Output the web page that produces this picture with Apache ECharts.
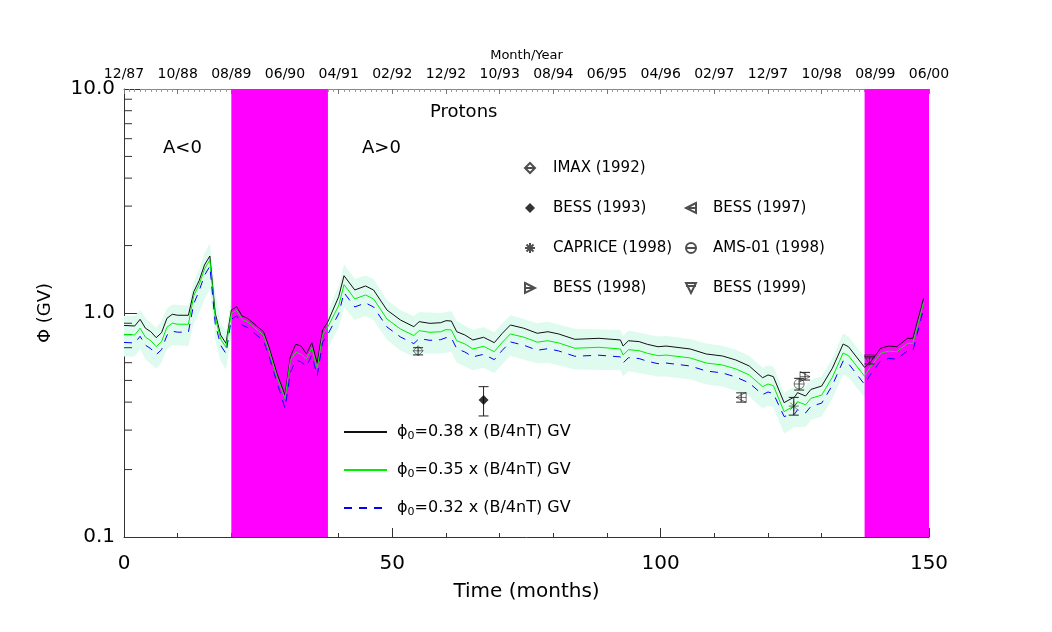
<!DOCTYPE html>
<html><head><meta charset="utf-8">
<script src="https://cdn.jsdelivr.net/npm/echarts@6/dist/echarts.min.js"></script>
<style>html,body{margin:0;padding:0;background:#fff}#c{width:1052px;height:632px}</style>
</head><body><div id="c"></div>
<script>
// ---- data ----
const topLabels = ['12/87','10/88','08/89','06/90','04/91','02/92','12/92','10/93','08/94','06/95','04/96','02/97','12/97','10/98','08/99','06/00'];

const months = [0,2,3,4,5,6,7,8,9,10,
 12,13,14,15,16,17,18,19,20,21,
 22,23,26,27,28.5,30,31,32,33,34,
 35,36,37,38,40,41,43,45,46.5,49,
 51.5,54,55,57,59,60,61,62,63.5,65,
 67,69,70.5,72,74.5,77,79,81,84,88.5,
 92.5,93,94,96,97.5,99.5,101,105.5,108.5,111.5,
 114,116.5,119,120,121,123,125,125.5,127,128,
 130,132,134,135,138,139,141,142.5,144,146,
 147,149];

const phi038 = [0.88,0.875,0.937,0.855,0.825,0.776,0.817,0.947,0.987,0.977,
 0.977,1.245,1.394,1.638,1.797,0.998,0.798,0.732,1.031,1.067,
 0.970,0.947,0.825,0.707,0.538,0.430,0.638,0.725,0.712,0.656,
 0.737,0.596,0.840,0.915,1.182,1.467,1.267,1.320,1.267,1.031,
 0.931,0.869,0.915,0.899,0.905,0.924,0.921,0.825,0.798,0.758,
 0.779,0.737,0.812,0.884,0.855,0.812,0.825,0.806,0.763,0.771,
 0.758,0.712,0.752,0.745,0.725,0.707,0.712,0.691,0.656,0.643,
 0.617,0.580,0.514,0.529,0.520,0.398,0.423,0.441,0.426,0.456,
 0.472,0.567,0.727,0.707,0.572,0.600,0.696,0.712,0.707,0.771,
 0.771,1.163];

const phi035 = [0.803,0.798,0.855,0.780,0.752,0.708,0.745,0.864,0.900,0.891,
 0.891,1.195,1.338,1.572,1.725,0.958,0.766,0.703,0.995,1.030,
 0.936,0.914,0.796,0.682,0.519,0.415,0.616,0.667,0.655,0.623,
 0.700,0.566,0.798,0.869,1.078,1.338,1.156,1.204,1.156,0.940,
 0.849,0.793,0.834,0.820,0.825,0.843,0.840,0.752,0.728,0.691,
 0.710,0.672,0.741,0.806,0.780,0.741,0.752,0.735,0.696,0.703,
 0.691,0.649,0.686,0.679,0.661,0.645,0.649,0.630,0.598,0.586,
 0.563,0.529,0.469,0.482,0.474,0.363,0.386,0.402,0.389,0.416,
 0.430,0.517,0.663,0.645,0.522,0.570,0.661,0.676,0.672,0.732,
 0.732,1.116];

const phi032 = [0.739,0.735,0.787,0.718,0.693,0.652,0.686,0.795,0.829,0.821,
 0.821,1.100,1.255,1.474,1.617,0.898,0.718,0.659,0.938,0.971,
 0.883,0.862,0.751,0.643,0.490,0.376,0.542,0.616,0.605,0.577,
 0.649,0.524,0.739,0.805,0.993,1.232,1.064,1.109,1.064,0.866,
 0.782,0.730,0.769,0.755,0.760,0.776,0.774,0.693,0.670,0.637,
 0.654,0.619,0.682,0.743,0.718,0.682,0.693,0.677,0.641,0.648,
 0.637,0.598,0.632,0.626,0.609,0.594,0.598,0.580,0.551,0.540,
 0.518,0.487,0.432,0.444,0.437,0.345,0.355,0.370,0.358,0.383,
 0.396,0.476,0.611,0.594,0.480,0.528,0.612,0.627,0.622,0.678,
 0.678,1.047];

// uncertainty band: [month, low, high]
const band = [[0,0.64,0.97],[2,0.64,0.97],[3,0.69,1.03],[4,0.62,0.95],[6,0.565,0.86],[7,0.60,0.92],[8,0.69,1.05],[9,0.72,1.09],[12,0.71,1.08],[13,0.90,1.38],[14,1.00,1.56],[15,1.15,1.85],[16,1.28,2.05],[17,0.76,1.25],[18,0.61,0.90],[19,0.56,0.83],[20,0.80,1.15],[30,0.32,0.48],[38,0.70,1.02],[40,0.86,1.32],[41,1.06,1.65],[43,0.93,1.42],[45,0.97,1.47],[46.5,0.93,1.42],[49,0.76,1.14],[51.5,0.68,1.03],[54,0.64,0.97],[55,0.66,1.01],[59,0.66,1.00],[61,0.67,1.02],[62,0.60,0.92],[65,0.555,0.84],[67,0.57,0.865],[69,0.54,0.82],[70.5,0.59,0.90],[72,0.645,0.98],[77,0.595,0.90],[79,0.60,0.915],[84,0.56,0.85],[92.5,0.555,0.84],[93,0.52,0.79],[94,0.55,0.835],[99.5,0.52,0.785],[101,0.52,0.79],[105.5,0.505,0.765],[108.5,0.48,0.73],[111.5,0.47,0.715],[114,0.45,0.685],[116.5,0.425,0.645],[119,0.375,0.57],[120,0.385,0.585],[121,0.38,0.575],[123,0.29,0.44],[125,0.31,0.47],[127,0.31,0.47],[128,0.333,0.505],[130,0.345,0.52],[132,0.415,0.63],[134,0.53,0.81],[135,0.515,0.785],[138,0.42,0.635],[139,0.46,0.67],[141,0.53,0.77],[144,0.54,0.78],[146,0.59,0.855],[147,0.59,0.855],[149,0.91,1.28]];

// A>0 / A<0 transition periods (months)
const periodStart = [20, 138];
const periodEnd = [38, 150];

// experiments
const expNames = ['IMAX (1992)','BESS (1993)','BESS (1997)','CAPRICE (1998)','AMS-01 (1998)','BESS (1998)','BESS (1999)'];
const expMonth = [54.8, 67, 115, 124.8, 125.8, 126.9, 138.9];
const expPhi   = [0.678, 0.409, 0.420, 0.384, 0.482, 0.520, 0.617];
const expLow   = [0.650, 0.347, 0.400, 0.350, 0.453, 0.502, 0.592];
const expHigh  = [0.700, 0.469, 0.440, 0.420, 0.511, 0.543, 0.638];

const yMinor = [0.2,0.3,0.4,0.5,0.6,0.7,0.8,0.9,2,3,4,5,6,7,8,9];

// ---- styling ----
const F = 'DejaVu Sans';
const symbols = [
  'path://M5 0L10 5L5 10L0 5Z M0 5L10 5',
  'path://M5 0L10 5L5 10L0 5Z',
  'path://M10 0L0 5L10 10Z M0 5L10 5',
  'path://M5 0L5 10M0 5L10 5M1.5 1.5L8.5 8.5M8.5 1.5L1.5 8.5',
  'path://M0 5A5 5 0 1 1 10 5A5 5 0 1 1 0 5Z M0 5L10 5',
  'path://M0 0L10 5L0 10Z M0 5L10 5',
  'path://M0 0L10 0L5 10Z M0 3L10 3'
];
const filled = [false, true, false, false, false, false, false];

const lineNames = ['phi0=0.38','phi0=0.35','phi0=0.32'];
const lineLabels = {'phi0=0.38':'0.38','phi0=0.35':'0.35','phi0=0.32':'0.32'};

const chart = echarts.init(document.getElementById('c'));

const series = [];
series.push({
  type:'custom', name:'band', z:1, silent:true,
  data: band,
  renderItem: function(params, api){
    if (params.dataIndex !== 0) return null;
    const pts = [];
    for (let i=0;i<band.length;i++) pts.push(api.coord([band[i][0], band[i][2]]));
    for (let i=band.length-1;i>=0;i--) pts.push(api.coord([band[i][0], band[i][1]]));
    return {type:'polygon', shape:{points:pts}, style:{fill:'#dffbef', stroke:null}};
  }
});
series.push({
  type:'custom', name:'periods', z:2, silent:true,
  data: periodStart.map((s,i)=>[s, periodEnd[i]]),
  renderItem: function(params, api){
    const a = api.coord([api.value(0), 10]);
    const b = api.coord([api.value(1), 0.1]);
    return {type:'rect', shape:{x:a[0], y:a[1], width:b[0]-a[0], height:b[1]-a[1]}, style:{fill:'#ff00ff'}};
  }
});
series.push({
  type:'custom', name:'yminor', z:2, silent:true,
  data: yMinor.map(v=>[0,v]),
  renderItem: function(params, api){
    const p = api.coord([0, api.value(1)]);
    return {type:'line', shape:{x1:p[0], y1:p[1], x2:p[0]+8, y2:p[1]}, style:{stroke:'#333', lineWidth:1}};
  }
});
const lineVals = [phi038, phi035, phi032];
const lineColors = ['#111','#00ee00','#0000ff'];
const lineTypes = ['solid','solid',[8,7]];
lineNames.forEach((n,k)=>{
  series.push({
    type:'line', name:n, z:3, symbol:'none', silent:true,
    data: months.map((m,i)=>[m, lineVals[k][i]]),
    lineStyle:{color:lineColors[k], width:1, type:lineTypes[k]},
    itemStyle:{color:lineColors[k]}
  });
});
series.push({
  type:'custom', name:'errors', z:4, silent:true,
  data: expMonth.map((m,i)=>[m, expLow[i], expHigh[i]]),
  renderItem: function(params, api){
    const x = api.value(0);
    const a = api.coord([x, api.value(1)]);
    const b = api.coord([x, api.value(2)]);
    const st = {stroke:'#222', lineWidth:1};
    return {type:'group', children:[
      {type:'line', shape:{x1:a[0], y1:a[1], x2:b[0], y2:b[1]}, style:st},
      {type:'line', shape:{x1:a[0]-5, y1:a[1], x2:a[0]+5, y2:a[1]}, style:st},
      {type:'line', shape:{x1:b[0]-5, y1:b[1], x2:b[0]+5, y2:b[1]}, style:st}
    ]};
  }
});
expNames.forEach((n,i)=>{
  series.push({
    type:'scatter', name:n, z:5, silent:true,
    symbol: symbols[i], symbolSize: 10,
    data: [[expMonth[i], expPhi[i]]],
    itemStyle: filled[i] ? {color:'#000'} : {color:'rgba(0,0,0,0)', borderColor:'#222', borderWidth:0.8}
  });
});

const txt = {color:'#000', fontFamily:F};
const option = {
  animation:false,
  backgroundColor:'#fff',
  grid:{left:124, right:123, top:89, bottom:95, containLabel:false},
  xAxis:[
    {type:'value', min:0, max:150, interval:50, position:'bottom',
     axisLine:{show:true, onZero:false, lineStyle:{color:'#333'}},
     axisTick:{show:true, inside:true, length:9, lineStyle:{color:'#333'}},
     minorTick:{show:true, splitNumber:5, length:4, lineStyle:{color:'#333'}},
     splitLine:{show:false},
     axisLabel:Object.assign({fontSize:20, margin:17}, txt),
     name:'Time (months)', nameLocation:'middle', nameGap:45,
     nameTextStyle:Object.assign({fontSize:20}, txt)},
    {type:'value', min:0, max:150, interval:10, position:'top',
     axisLine:{show:true, onZero:false, lineStyle:{color:'#888'}},
     axisTick:{show:true, inside:true, length:5, lineStyle:{color:'#777'}},
     minorTick:{show:true, splitNumber:10, length:3, lineStyle:{color:'#999'}},
     splitLine:{show:false},
     axisLabel:Object.assign({fontSize:14, margin:8, formatter:v=>topLabels[Math.round(v/10)]}, txt),
     name:'Month/Year', nameLocation:'middle', nameGap:21,
     nameTextStyle:Object.assign({fontSize:13}, txt)}
  ],
  yAxis:{type:'log', logBase:10, min:0.1, max:10,
     axisLine:{show:true, lineStyle:{color:'#333'}},
     axisTick:{show:true, inside:true, length:16, lineStyle:{color:'#333'}},
     minorTick:{show:false}, splitLine:{show:false},
     axisLabel:Object.assign({fontSize:20, margin:9, formatter:v=>Number(v).toFixed(1)}, txt),
     name:'Φ (GV)', nameLocation:'middle', nameRotate:90, nameGap:70,
     nameTextStyle:Object.assign({fontSize:18}, txt)},
  legend:[
    {data:lineNames, orient:'vertical', left:338, top:419, itemWidth:43, itemHeight:12, itemGap:20,
     selectedMode:false, lineStyle:{width:2}, itemStyle:{opacity:0},
     formatter: n => '{p|ϕ}{s|0}{t|=' + lineLabels[n] + ' x (B/4nT) GV}',
     textStyle:{fontFamily:F, color:'#000', fontSize:16, padding:[0,0,0,5],
       rich:{p:{fontSize:16, lineHeight:20, fontFamily:F, color:'#000'},
             s:{fontSize:11, lineHeight:11, verticalAlign:'bottom', fontFamily:F, color:'#000'},
             t:{fontSize:16, lineHeight:20, fontFamily:F, color:'#000'}}}},
    {data:['IMAX (1992)','BESS (1993)','CAPRICE (1998)','BESS (1998)'], orient:'vertical', left:519, top:154,
     itemWidth:10, itemHeight:10, itemGap:22, selectedMode:false,
     textStyle:{fontFamily:F, color:'#000', fontSize:15, lineHeight:18, padding:[0,0,0,13]}},
    {data:['BESS (1997)','AMS-01 (1998)','BESS (1999)'], orient:'vertical', left:680, top:194,
     itemWidth:10, itemHeight:10, itemGap:22, selectedMode:false,
     textStyle:{fontFamily:F, color:'#000', fontSize:15, lineHeight:18, padding:[0,0,0,12]}}
  ],
  graphic:[
    {type:'text', left:430, top:103, style:{text:'Protons', fontSize:18, fontFamily:F, fill:'#000'}},
    {type:'text', left:163, top:139, style:{text:'A<0', fontSize:18, fontFamily:F, fill:'#000'}},
    {type:'text', left:362, top:139, style:{text:'A>0', fontSize:18, fontFamily:F, fill:'#000'}}
  ],
  series: series
};
chart.setOption(option);
</script>
</body></html>
